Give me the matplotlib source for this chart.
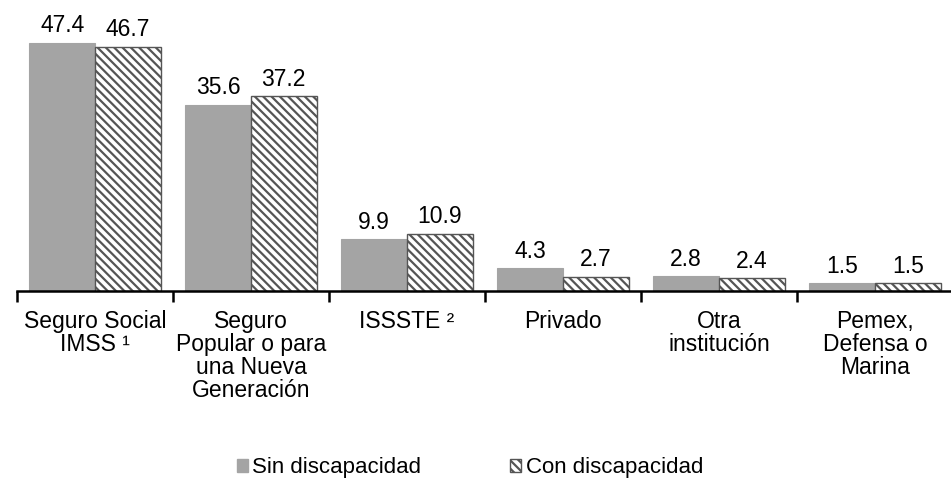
import matplotlib.pyplot as plt
import matplotlib.patches as mpatches
import numpy as np

# data
categories = ["Seguro Social\nIMSS \u00b9",
              "Seguro\nPopular o para\nuna Nueva\nGeneración",
              "ISSSTE \u00b2",
              "Privado",
              "Otra\ninstitución",
              "Pemex,\nDefensa o\nMarina"]
sin_disc = [47.4, 35.6, 9.9, 4.3, 2.8, 1.5]
con_disc = [46.7, 37.2, 10.9, 2.7, 2.4, 1.5]
series_names = ["Sin discapacidad", "Con discapacidad"]

plt.rcParams['font.family'] = ['Liberation Sans', 'DejaVu Sans']
plt.rcParams['hatch.linewidth'] = 1.6
plt.rcParams['hatch.color'] = '#4a4a4a'

fig = plt.figure(figsize=(9.51, 4.83), dpi=100)
ax = fig.add_axes([17 / 951, 192 / 483, 936 / 951, 291 / 483])

x = np.arange(len(categories))
w = 0.42
gray = '#a4a4a4'
b1 = ax.bar(x - w / 2, sin_disc, w, color=gray, edgecolor=gray, linewidth=0.8)
b2 = ax.bar(x + w / 2, con_disc, w, color='white', edgecolor='#555555',
            linewidth=1.0, hatch='\\\\\\\\')

for bars, vals in ((b1, sin_disc), (b2, con_disc)):
    for r, v in zip(bars, vals):
        ax.annotate(f"{v:.1f}", (r.get_x() + r.get_width() / 2, v),
                    xytext=(0, 4), textcoords='offset points',
                    ha='center', va='bottom', fontsize=16.5)

ax.set_xlim(-0.5, len(categories) - 0.5)
ax.set_ylim(0, 55.6)
for s in ('top', 'right', 'left'):
    ax.spines[s].set_visible(False)
ax.spines['bottom'].set_linewidth(1.8)
ax.set_yticks([])

# tick marks between categories, labels at centers
ax.set_xticks(np.arange(-0.5, len(categories), 1.0))
ax.set_xticklabels([])
ax.tick_params(axis='x', which='major', length=8, width=1.8, direction='out')
ax.set_xticks(x, minor=True)
ax.set_xticklabels(categories, minor=True, fontsize=16.5, linespacing=0.99,
                   va='top')
ax.tick_params(axis='x', which='minor', length=0, pad=14)

handles = [mpatches.Patch(facecolor=gray, edgecolor=gray, label=series_names[0]),
           mpatches.Patch(facecolor='white', edgecolor='#555555', hatch='\\\\\\\\',
                          label=series_names[1])]
fig.legend(handles=handles, loc='center', bbox_to_anchor=(0.494, 15 / 483),
           ncol=2, frameon=False, fontsize=16, handlelength=0.5,
           handleheight=0.5, handletextpad=0.2, columnspacing=4.0)

fig.savefig('out.png', dpi=100)
